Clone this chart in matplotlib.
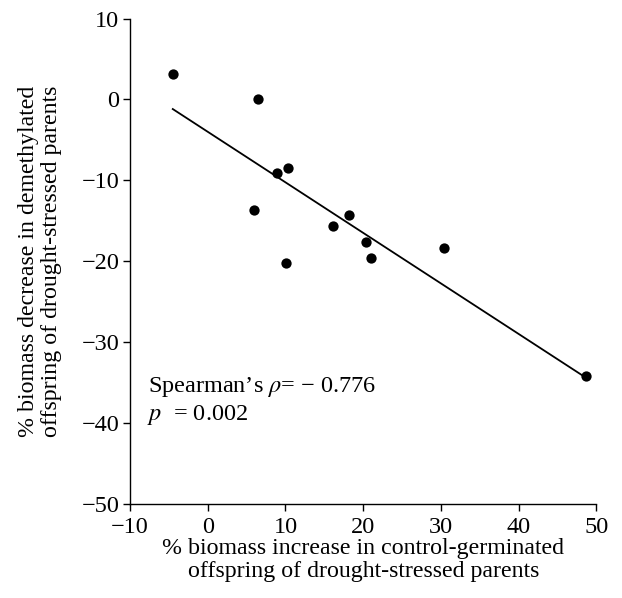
import numpy as np
import matplotlib.pyplot as plt

plt.rcParams["font.family"] = ["Liberation Serif", "DejaVu Serif"]
plt.rcParams["mathtext.fontset"] = "stix"
plt.rcParams["axes.unicode_minus"] = True

# % biomass increase (control-germinated) vs % biomass decrease (demethylated)
biomass_increase = [-4.5, 6.4, 8.9, 10.3, 5.9, 10.1, 16.1, 18.2, 20.3, 21.0, 30.4, 48.7]
biomass_decrease = [3.1, 0.1, -9.1, -8.5, -13.7, -20.2, -15.7, -14.3, -17.6, -19.6, -18.4, -34.2]

x_ticks = [-10, 0, 10, 20, 30, 40, 50]
y_ticks = [-50, -40, -30, -20, -10, 0, 10]

x = np.array(biomass_increase)
y = np.array(biomass_decrease)
slope, intercept = np.polyfit(x, y, 1)
xf = np.array([x.min(), x.max()])

fig = plt.figure(figsize=(6.22, 5.98), dpi=100)
ax = fig.add_axes([0.209, 0.158, 0.750, 0.811])

ax.plot(xf, slope * xf + intercept, color="black", lw=1.3)
ax.scatter(x, y, s=55, color="black", zorder=3, linewidths=0)

ax.set_xlim(-10, 50)
ax.set_ylim(-50, 10)
ax.set_xticks(x_ticks)
ax.set_yticks(y_ticks)
ax.spines["top"].set_visible(False)
ax.spines["right"].set_visible(False)
for s in ("left", "bottom"):
    ax.spines[s].set_linewidth(1.0)
ax.tick_params(direction="out", length=4.7, width=1.0, labelsize=17.5)
ax.tick_params(axis="x", pad=5)
ax.tick_params(axis="y", pad=3)

ax.set_xlabel("% biomass increase in control-germinated\noffspring of drought-stressed parents",
              fontsize=17.2, labelpad=0, linespacing=1.12)
ax.set_ylabel("% biomass decrease in demethylated\noffspring of drought-stressed parents",
              fontsize=17.2, labelpad=14, linespacing=1.12)

ax.text(-7.65, -36.2, "Spearman’s $\\rho$= − 0.776", fontsize=17.5)
ax.text(-7.85, -39.65, "$p$  = 0.002", fontsize=17.5)

plt.savefig("out.png", dpi=100)
